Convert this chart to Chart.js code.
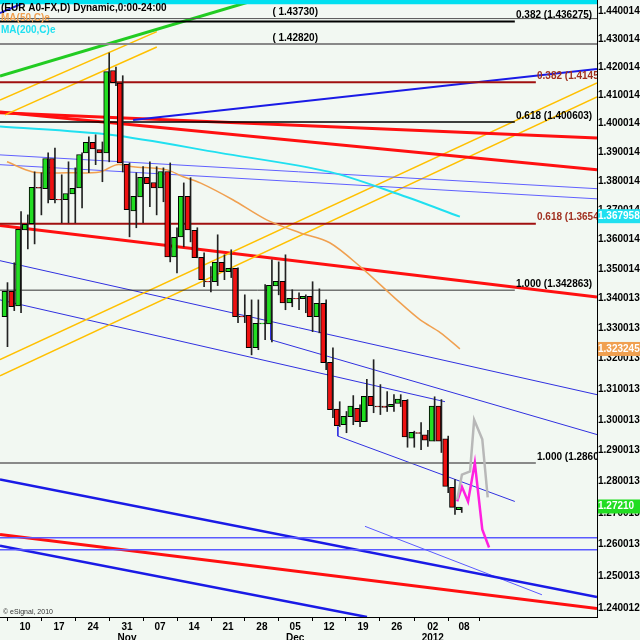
<!DOCTYPE html>
<html><head><meta charset="utf-8">
<script src="https://cdn.jsdelivr.net/npm/chart.js@4"></script>
<style>html,body{margin:0;padding:0;background:#f2f8f2}canvas{display:block}</style>
</head><body><canvas id="c" width="640" height="640"></canvas>
<script>
// ---- data ----
const opens  = [1.3340,1.3423,1.3376,1.3633,1.3654,1.3777,1.3774,1.3877,1.3736,1.3736,1.3756,1.3777,1.3898,1.3933,1.3908,1.3898,1.4186,1.4141,1.3857,1.3698,1.3746,1.3812,1.3794,1.3777,1.3832,1.3541,1.3609,1.3746,1.3630,1.3538,1.3457,1.3457,1.3521,1.3491,1.3501,1.3340,1.3343,1.3237,1.3316,1.3316,1.3443,1.3457,1.3386,1.3400,1.3400,1.3406,1.3340,1.3383,1.3187,1.3033,1.2984,1.3010,1.3036,1.2994,1.3075,1.3043,1.3043,1.3043,1.3053,1.3062,1.2940,1.2957,1.2950,1.2931,1.3043,1.2937,1.2781,1.2711];
const highs  = [1.3454,1.3521,1.3695,1.3684,1.3832,1.3829,1.3898,1.3915,1.3822,1.3867,1.3846,1.3898,1.3954,1.3961,1.3936,1.4250,1.4200,1.4169,1.3863,1.3829,1.3850,1.3867,1.3850,1.3846,1.3863,1.3640,1.3794,1.3812,1.3640,1.3555,1.3508,1.3616,1.3548,1.3565,1.3504,1.3413,1.3396,1.3396,1.3447,1.3531,1.3524,1.3548,1.3430,1.3420,1.3413,1.3457,1.3433,1.3396,1.3236,1.3059,1.3027,1.3079,1.3049,1.3132,1.3197,1.3115,1.3092,1.3082,1.3082,1.3066,1.2963,1.2991,1.2966,1.3075,1.3066,1.2947,1.2807,1.2718];
const lows   = [1.3240,1.3360,1.3353,1.3568,1.3585,1.3684,1.3725,1.3725,1.3657,1.3657,1.3657,1.3708,1.3829,1.3857,1.3798,1.3867,1.4134,1.3832,1.3609,1.3640,1.3657,1.3712,1.3684,1.3729,1.3524,1.3487,1.3575,1.3592,1.3538,1.3440,1.3423,1.3444,1.3464,1.3471,1.3320,1.3320,1.3213,1.3230,1.3263,1.3256,1.3413,1.3363,1.3373,1.3363,1.3353,1.3290,1.3286,1.3164,1.3007,1.2978,1.2958,1.2984,1.2978,1.2994,1.3023,1.3017,1.3027,1.3027,1.3043,1.2911,1.2911,1.2903,1.2914,1.2931,1.2894,1.2765,1.2696,1.2702];
const closes = [1.3423,1.3373,1.3633,1.3650,1.3777,1.3776,1.3877,1.3736,1.3735,1.3756,1.3774,1.3891,1.3933,1.3912,1.3898,1.4182,1.4144,1.3863,1.3702,1.3746,1.3812,1.3791,1.3777,1.3832,1.3541,1.3606,1.3746,1.3633,1.3538,1.3464,1.3456,1.3521,1.3491,1.3501,1.3340,1.3339,1.3237,1.3316,1.3317,1.3443,1.3457,1.3386,1.3400,1.3399,1.3406,1.3340,1.3383,1.3187,1.3033,1.2981,1.3010,1.3043,1.2994,1.3075,1.3046,1.3042,1.3040,1.3049,1.3066,1.2944,1.2958,1.2956,1.2934,1.3043,1.2931,1.2785,1.2718,1.2718];
const ma50  = [[1,1.3867],[4.8,1.3832],[9.8,1.3829],[14.7,1.3832],[17.2,1.3857],[19.6,1.3850],[24.6,1.3839],[27,1.3815],[29.5,1.3794],[34.3,1.3736],[39.3,1.3667],[44.2,1.3623],[48.6,1.3589],[53.1,1.3508],[58.5,1.3396],[61.9,1.3330],[64.9,1.3287],[67.8,1.3233]];
const ma200 = [[-0.03,1.3990],[16.2,1.3961],[32.4,1.3898],[48.6,1.3832],[59,1.3753],[67.8,1.3678]];
const projGray    = [[67.4,1.2743],[68.1,1.2823],[69.3,1.2833],[69.9,1.3000],[71.1,1.2937],[71.9,1.2750]];
const projMagenta = [[67.4,1.2737],[68.1,1.2784],[69.0,1.2737],[70.0,1.2861],[71.1,1.2648],[72.1,1.2591]];
const xTickPos    = [3.65,8.67,13.68,18.7,23.57,28.6,33.6,38.6,43.5,48.5,53.5,58.5,63.8,68.4];
const xTickLabels = [['10'],['17'],['24'],['31','Nov'],['07'],['14'],['21'],['28'],['05','Dec'],['12'],['19'],['26'],['02','2012'],['08']];
const yTickLabels = ['1.440014','1.430014','1.420014','1.410014','1.400014','1.390014','1.380014','1.370014','1.360014','1.350014','1.340013','1.330013','1.320013','1.310013','1.300013','1.290013','1.280013','1.270013','1.260013','1.250013','1.240012'];
// drawn lines: [x1,y1,x2,y2,color,width]
const trendLines = [
 [-0.03,1.4434,88.02,1.4434,'#00e0f0',5],
 [-0.03,1.4373,88.02,1.4373,'#555',1],
 [-0.03,1.436275,75.9,1.436275,'#000',2],
 [-0.03,1.4282,88.02,1.4282,'#888',2],
 [-0.03,1.41455,79.0,1.41455,'#a01010',2],
 [-0.03,1.400603,75.9,1.400603,'#000',1.5],
 [-0.03,1.3654,79.0,1.3654,'#a01010',2],
 [-0.03,1.342863,75.9,1.342863,'#333',1],
 [-0.03,1.28601,79.0,1.28601,'#666',1.5],
 [-0.03,1.2622,88.02,1.2622,'#5a5aff',1.5],
 [-0.03,1.2584,88.02,1.2584,'#5a5aff',1.5],
 [-0.03,1.4168,37.6,1.4440,'#22cc22',3],
 [-0.03,1.4393,4.4,1.4440,'#2222dd',2],
 [-0.03,1.4083,23.1,1.4326,'#ffc000',1.5],
 [0.7,1.4031,23.1,1.4271,'#ffc000',1.5],
 [19.6,1.4013,88.02,1.4193,'#1a1ae6',2],
 [-0.03,1.4038,88.02,1.3950,'#ff1010',3],
 [-0.03,1.4041,88.02,1.3839,'#ff1010',3],
 [-0.03,1.3891,88.02,1.3774,'#6060ff',1],
 [-0.03,1.3857,88.02,1.3739,'#6060ff',1],
 [-0.03,1.3197,88.02,1.4143,'#ffc000',1.5],
 [-0.03,1.3144,88.02,1.4094,'#ffc000',1.5],
 [-0.03,1.3648,88.02,1.3406,'#ff1010',3],
 [-0.03,1.3528,88.02,1.3082,'#3030e0',1],
 [39.9,1.3330,39.9,1.3263,'#3030e0',1],
 [39.9,1.3263,88.02,1.2952,'#3030e0',1],
 [-0.03,1.3396,65.6,1.3059,'#3030e0',1],
 [49.8,1.2978,49.8,1.2947,'#3030e0',1],
 [49.8,1.2947,75.9,1.2737,'#3030e0',1],
 [-0.03,1.2807,88.02,1.2436,'#1a1ae6',2.5],
 [53.8,1.2658,79.9,1.2443,'#5a5aff',1],
 [-0.03,1.2632,88.02,1.2400,'#ff1010',3],
 [-0.03,1.2597,54.1,1.2374,'#1a1ae6',2.5]
];

const ds = [];
trendLines.forEach(l => ds.push({type:'line', data:[{x:l[0],y:l[1]},{x:l[2],y:l[3]}], borderColor:l[4], borderWidth:l[5], pointRadius:0, order:5}));
ds.push({type:'line', data:ma50.map(p=>({x:p[0],y:p[1]})), borderColor:'#f0a050', borderWidth:1.5, pointRadius:0, tension:0.3, order:4});
ds.push({type:'line', data:ma200.map(p=>({x:p[0],y:p[1]})), borderColor:'#20e0f0', borderWidth:2, pointRadius:0, tension:0.3, order:4});
ds.push({type:'line', data:projGray.map(p=>({x:p[0],y:p[1]})), borderColor:'#b8b8b8', borderWidth:2.5, pointRadius:0, order:3});
ds.push({type:'line', data:projMagenta.map(p=>({x:p[0],y:p[1]})), borderColor:'#ff20e0', borderWidth:2.5, pointRadius:0, order:3});
ds.push({type:'bar', data:opens.map((o,i)=>({x:i+1,y:[lows[i],highs[i]]})), backgroundColor:'#222', barThickness:1, order:2});
ds.push({type:'bar', data:opens.map((o,i)=>({x:i+1,y:[Math.min(o,closes[i]),Math.max(o,closes[i])+0.00015]})),
  backgroundColor:opens.map((o,i)=>closes[i]>=o?'#22dd22':'#ee1111'), borderColor:'#000', borderWidth:1, borderSkipped:false, barThickness:5, order:1});

const notes = [
 ['( 1.43730)',318,1.4373,'#000','right'],
 ['0.382 (1.436275)',516,1.436275,'#000','left'],
 ['( 1.42820)',318,1.4282,'#000','right'],
 ['0.382 (1.41455',537,1.41455,'#a03020','left'],
 ['0.618 (1.400603)',516,1.400603,'#000','left'],
 ['0.618 (1.36540',537,1.3654,'#a03020','left'],
 ['1.000 (1.342863)',516,1.342863,'#000','left'],
 ['1.000 (1.28601',537,1.28601,'#000','left']
];
const boxes = [['1.367958',1.367958,'#20e0f0'],['1.323245',1.323245,'#f0a050'],['1.27210',1.27210,'#22dd22']];
const FONT = 'bold 10px "Liberation Sans", Arial';

const annot = {id:'annot', afterDraw(ch){
  const c=ch.ctx, a=ch.chartArea, y=ch.scales.y;
  c.save(); c.beginPath(); c.rect(a.left,a.top,a.right-a.left,a.bottom-a.top); c.clip();
  c.font=FONT; c.textBaseline='bottom';
  notes.forEach(n=>{c.fillStyle=n[3]; c.textAlign=n[4]; c.fillText(n[0],n[1],y.getPixelForValue(n[2])-1);});
  c.textAlign='left'; c.textBaseline='middle';
  c.fillStyle='#000'; c.fillText('(EUR A0-FX,D) Dynamic,0:00-24:00',1,8);
  c.fillStyle='#f0a050'; c.fillText('MA(50,C)e',1,18);
  c.fillStyle='#20e0f0'; c.fillText('MA(200,C)e',1,30);
  c.font='7px Arial'; c.fillStyle='#333'; c.fillText('© eSignal, 2010',3,612);
  c.restore();
  c.save(); c.font=FONT; c.textBaseline='middle';
  boxes.forEach(b=>{const py=y.getPixelForValue(b[1]); c.fillStyle=b[2]; c.fillRect(a.right+1,py-7,43,14); c.fillStyle='#fff'; c.fillText(b[0],a.right+1,py);});
  c.restore();
}};

new Chart(document.getElementById('c'), {
  type:'bar',
  data:{datasets:ds},
  plugins:[annot],
  options:{responsive:false, animation:false, devicePixelRatio:1,
    layout:{padding:0},
    plugins:{legend:{display:false}, tooltip:{enabled:false}},
    scales:{
      x:{type:'linear', min:-0.03, max:88.02, offset:false,
        afterBuildTicks:s=>{s.ticks=xTickPos.map(v=>({value:v}));},
        afterFit:s=>{s.height=23; s.paddingLeft=0; s.paddingRight=0;},
        ticks:{autoSkip:false, maxRotation:0, padding:0, color:'#000', font:{family:'Liberation Sans', size:10, weight:'bold', lineHeight:1.15},
          callback:(v,i)=>xTickLabels[i]},
        grid:{drawOnChartArea:false, color:'#000', tickLength:4},
        border:{color:'#000', width:1}},
      y:{type:'logarithmic', position:'right', min:1.2374, max:1.4440,
        afterBuildTicks:s=>{s.ticks=yTickLabels.map(v=>({value:parseFloat(v)}));},
        afterFit:s=>{s.width=43; s.paddingTop=0; s.paddingBottom=0;},
        ticks:{autoSkip:false, padding:0, color:'#000', font:{family:'Liberation Sans', size:10, weight:'bold'},
          callback:(v,i)=>yTickLabels[i]},
        grid:{drawOnChartArea:false, color:'#000', tickLength:1},
        border:{color:'#000', width:1}}
    }}
});
</script></body></html>
